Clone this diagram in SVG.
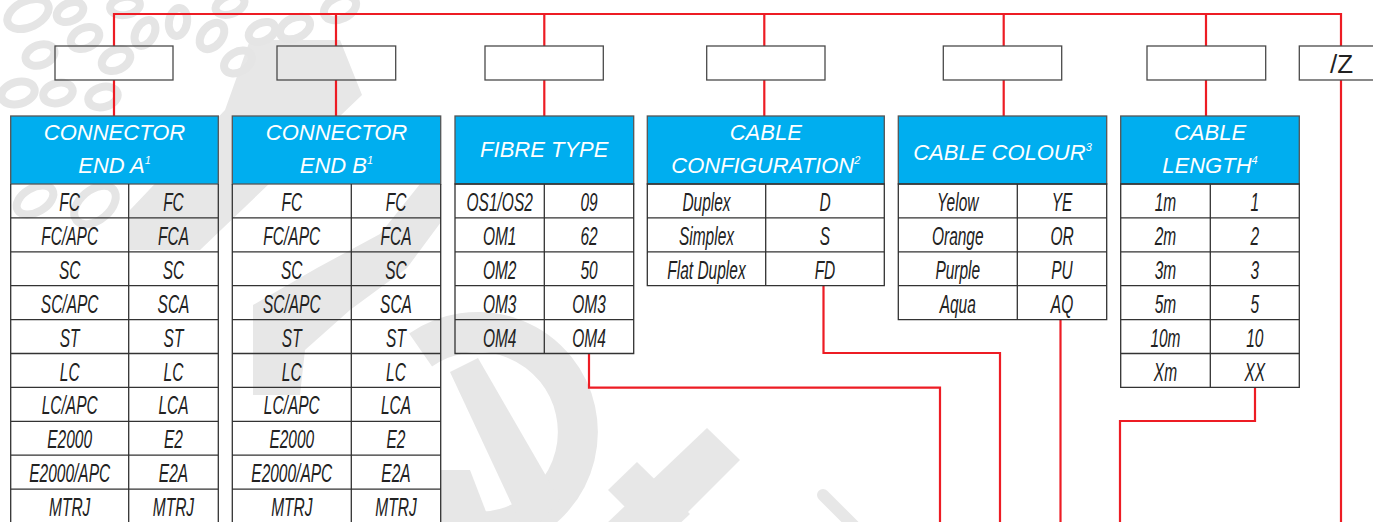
<svg xmlns="http://www.w3.org/2000/svg" width="1373" height="522" viewBox="0 0 1373 522">
<style>
.wm{fill:#e7e7e7;stroke:none}
.ring{fill:none;stroke:#e5e5e5;stroke-width:8}
.box{fill:none;stroke:#4a4a4a;stroke-width:1.3}
.hdr{fill:#00aeef;stroke:#555;stroke-width:1.3}
.htx{font-family:"Liberation Sans",Arial,sans-serif;font-style:italic;font-size:22px;fill:#fff;text-anchor:middle}
.sup{font-size:11px}
.grid{fill:none;stroke:#333;stroke-width:1.3}
.cell{font-family:"Liberation Sans",Arial,sans-serif;font-style:italic;font-size:25px;fill:#222;text-anchor:middle}
.red{fill:none;stroke:#ed1c24;stroke-width:2.2}
.ztx{font-family:"Liberation Sans",Arial,sans-serif;font-size:26px;fill:#222;text-anchor:middle}
</style>
<rect width="1373" height="522" fill="#fff"/>
<g id="watermark">
<polygon class="wm" points="250,40 340,40 362,95 200,250 130,250 130,210 225,110"/>
<polygon class="wm" points="420,184 441,184 441,222 407,268 350,310 305,350 300,395 253,395 253,305 317,268 380,234"/>
<path d="M420.6,350 A100,100 0 1 1 460.6,530.5" fill="none" stroke="#e7e7e7" stroke-width="40"/>
<polygon class="wm" points="450,372 478,358 560,500 540,522 520,522"/>
<polygon class="wm" points="440,470 470,470 490,522 440,522"/>
<polygon class="wm" points="707,428 740,460 640,560 605,525"/>
<polygon class="wm" points="637,462 608,490 660,542 690,514"/>
<line x1="823" y1="495" x2="870" y2="542" stroke="#e7e7e7" stroke-width="12" stroke-linecap="round"/>
<g class="ring">
<ellipse cx="28" cy="14" rx="22" ry="13" transform="rotate(-25 28 14)"/>
<ellipse cx="70" cy="12" rx="14" ry="9" transform="rotate(-25 70 12)"/>
<ellipse cx="85" cy="38" rx="15" ry="10" transform="rotate(-25 85 38)"/>
<ellipse cx="116" cy="60" rx="15" ry="10" transform="rotate(-25 116 60)"/>
<ellipse cx="145" cy="33" rx="14" ry="9" transform="rotate(-60 145 33)"/>
<ellipse cx="178" cy="22" rx="14" ry="9" transform="rotate(-80 178 22)"/>
<ellipse cx="212" cy="36" rx="15" ry="10" transform="rotate(-50 212 36)"/>
<ellipse cx="238" cy="62" rx="15" ry="10" transform="rotate(-30 238 62)"/>
<ellipse cx="262" cy="32" rx="14" ry="9" transform="rotate(-25 262 32)"/>
<ellipse cx="295" cy="28" rx="16" ry="10" transform="rotate(-25 295 28)"/>
<ellipse cx="340" cy="8" rx="17" ry="11" transform="rotate(-25 340 8)"/>
<ellipse cx="125" cy="6" rx="15" ry="9" transform="rotate(-10 125 6)"/>
<ellipse cx="230" cy="5" rx="15" ry="9" transform="rotate(-20 230 5)"/>
<ellipse cx="40" cy="55" rx="15" ry="10" transform="rotate(-20 40 55)"/>
<ellipse cx="18" cy="93" rx="17" ry="11" transform="rotate(-15 18 93)"/>
<ellipse cx="58" cy="93" rx="15" ry="10" transform="rotate(-15 58 93)"/>
<ellipse cx="103" cy="97" rx="15" ry="10" transform="rotate(-15 103 97)"/>
<ellipse cx="95" cy="205" rx="24" ry="15" transform="rotate(-40 95 205)"/>
<ellipse cx="35" cy="200" rx="20" ry="12" transform="rotate(-30 35 200)"/>
</g>
</g>
<g id="connectors">
<path class="red" d="M114,46 V14 H1341 V46"/>
<path class="red" d="M336,14 V46 M544.3,14 V46 M764.3,14 V46 M1003.7,14 V46 M1206,14 V46"/>
<path class="red" d="M114,80 V116 M336,80 V116 M544.3,80 V116 M764.3,80 V116 M1003.7,80 V116 M1206,80 V116"/>
<path class="red" d="M1341,80 V522"/>
<path class="red" d="M589,353 V387.7 H940 V522"/>
<path class="red" d="M823.5,285.5 V353 H1000 V522"/>
<path class="red" d="M1060.5,319.5 V522"/>
<path class="red" d="M1255,387 V421 H1120 V522"/>
</g>
<g id="code-boxes">
<rect class="box" x="55" y="46" width="118" height="34"/>
<rect class="box" x="277" y="46" width="118.7" height="34"/>
<rect class="box" x="485" y="46" width="118.3" height="34"/>
<rect class="box" x="706.7" y="46" width="118.3" height="34"/>
<rect class="box" x="943.3" y="46" width="118.4" height="34"/>
<rect class="box" x="1147" y="46" width="118.7" height="34"/>
<g id="box-z">
<rect class="box" x="1299.3" y="46" width="90" height="34"/>
<text class="ztx" x="1341.5" y="73">/Z</text>
</g>
</g>
<g id="table-connector-a">
<rect class="hdr" x="10.7" y="116" width="207.6" height="68"/>
<text class="htx" x="114.5" y="140">CONNECTOR</text>
<text class="htx" x="114.5" y="173">END A<tspan class="sup" dy="-9">1</tspan></text>
<path class="grid" d="M10.7,184 V530 H218.3 V184 M128.7,184 V530 M10.7,217.9 H218.3 M10.7,251.8 H218.3 M10.7,285.7 H218.3 M10.7,319.6 H218.3 M10.7,353.5 H218.3 M10.7,387.4 H218.3 M10.7,421.3 H218.3 M10.7,455.2 H218.3 M10.7,489.1 H218.3"/>
</g>
<g id="table-connector-b">
<rect class="hdr" x="232.3" y="116" width="208.4" height="68"/>
<text class="htx" x="336.5" y="140">CONNECTOR</text>
<text class="htx" x="336.5" y="173">END B<tspan class="sup" dy="-9">1</tspan></text>
<path class="grid" d="M232.3,184 V530 H440.7 V184 M351.3,184 V530 M232.3,217.9 H440.7 M232.3,251.8 H440.7 M232.3,285.7 H440.7 M232.3,319.6 H440.7 M232.3,353.5 H440.7 M232.3,387.4 H440.7 M232.3,421.3 H440.7 M232.3,455.2 H440.7 M232.3,489.1 H440.7"/>
</g>
<g id="table-fibre">
<rect class="hdr" x="455" y="116" width="178.7" height="68"/>
<text class="htx" x="544.3" y="157">FIBRE TYPE</text>
<path class="grid" d="M455,184 V353.5 H633.7 V184 Z M544.3,184 V353.5 M455,217.9 H633.7 M455,251.8 H633.7 M455,285.7 H633.7 M455,319.6 H633.7"/>
</g>
<g id="table-config">
<rect class="hdr" x="647.3" y="116" width="237" height="68"/>
<text class="htx" x="765.8" y="140">CABLE</text>
<text class="htx" x="765.8" y="173">CONFIGURATION<tspan class="sup" dy="-9">2</tspan></text>
<path class="grid" d="M647.3,184 V285.7 H884.3 V184 Z M765.7,184 V285.7 M647.3,217.9 H884.3 M647.3,251.8 H884.3"/>
</g>
<g id="table-colour">
<rect class="hdr" x="898.3" y="116" width="208.4" height="68"/>
<text class="htx" x="1002.5" y="160">CABLE COLOUR<tspan class="sup" dy="-9">3</tspan></text>
<path class="grid" d="M898.3,184 V319.6 H1106.7 V184 Z M1017.3,184 V319.6 M898.3,217.9 H1106.7 M898.3,251.8 H1106.7 M898.3,285.7 H1106.7"/>
</g>
<g id="table-length">
<rect class="hdr" x="1120.7" y="116" width="178.6" height="68"/>
<text class="htx" x="1210" y="140">CABLE</text>
<text class="htx" x="1210" y="173">LENGTH<tspan class="sup" dy="-9">4</tspan></text>
<path class="grid" d="M1120.7,184 V387.4 H1299.3 V184 Z M1210.3,184 V387.4 M1120.7,217.9 H1299.3 M1120.7,251.8 H1299.3 M1120.7,285.7 H1299.3 M1120.7,319.6 H1299.3 M1120.7,353.5 H1299.3"/>
</g>
<g id="cell-texts" transform="scale(0.62 1)">
<g class="cell">
<text x="112.4" y="211">FC</text><text x="279.8" y="211">FC</text>
<text x="112.4" y="245">FC/APC</text><text x="279.8" y="245">FCA</text>
<text x="112.4" y="279">SC</text><text x="279.8" y="279">SC</text>
<text x="112.4" y="313">SC/APC</text><text x="279.8" y="313">SCA</text>
<text x="112.4" y="347">ST</text><text x="279.8" y="347">ST</text>
<text x="112.4" y="381">LC</text><text x="279.8" y="381">LC</text>
<text x="112.4" y="414">LC/APC</text><text x="279.8" y="414">LCA</text>
<text x="112.4" y="448">E2000</text><text x="279.8" y="448">E2</text>
<text x="112.4" y="482">E2000/APC</text><text x="279.8" y="482">E2A</text>
<text x="112.4" y="516">MTRJ</text><text x="279.8" y="516">MTRJ</text>

<text x="470.6" y="211">FC</text><text x="638.7" y="211">FC</text>
<text x="470.6" y="245">FC/APC</text><text x="638.7" y="245">FCA</text>
<text x="470.6" y="279">SC</text><text x="638.7" y="279">SC</text>
<text x="470.6" y="313">SC/APC</text><text x="638.7" y="313">SCA</text>
<text x="470.6" y="347">ST</text><text x="638.7" y="347">ST</text>
<text x="470.6" y="381">LC</text><text x="638.7" y="381">LC</text>
<text x="470.6" y="414">LC/APC</text><text x="638.7" y="414">LCA</text>
<text x="470.6" y="448">E2000</text><text x="638.7" y="448">E2</text>
<text x="470.6" y="482">E2000/APC</text><text x="638.7" y="482">E2A</text>
<text x="470.6" y="516">MTRJ</text><text x="638.7" y="516">MTRJ</text>

<text x="806" y="211">OS1/OS2</text><text x="950" y="211">09</text>
<text x="806" y="245">OM1</text><text x="950" y="245">62</text>
<text x="806" y="279">OM2</text><text x="950" y="279">50</text>
<text x="806" y="313">OM3</text><text x="950" y="313">OM3</text>
<text x="806" y="347">OM4</text><text x="950" y="347">OM4</text>

<text x="1139.5" y="211">Duplex</text><text x="1330.6" y="211">D</text>
<text x="1139.5" y="245">Simplex</text><text x="1330.6" y="245">S</text>
<text x="1139.5" y="279">Flat Duplex</text><text x="1330.6" y="279">FD</text>

<text x="1544.8" y="211">Yelow</text><text x="1712.9" y="211">YE</text>
<text x="1544.8" y="245">Orange</text><text x="1712.9" y="245">OR</text>
<text x="1544.8" y="279">Purple</text><text x="1712.9" y="279">PU</text>
<text x="1544.8" y="313">Aqua</text><text x="1712.9" y="313">AQ</text>

<text x="1879.8" y="211">1m</text><text x="2023.9" y="211">1</text>
<text x="1879.8" y="245">2m</text><text x="2023.9" y="245">2</text>
<text x="1879.8" y="279">3m</text><text x="2023.9" y="279">3</text>
<text x="1879.8" y="313">5m</text><text x="2023.9" y="313">5</text>
<text x="1879.8" y="347">10m</text><text x="2023.9" y="347">10</text>
<text x="1879.8" y="381">Xm</text><text x="2023.9" y="381">XX</text>
</g>
</g>
</svg>
